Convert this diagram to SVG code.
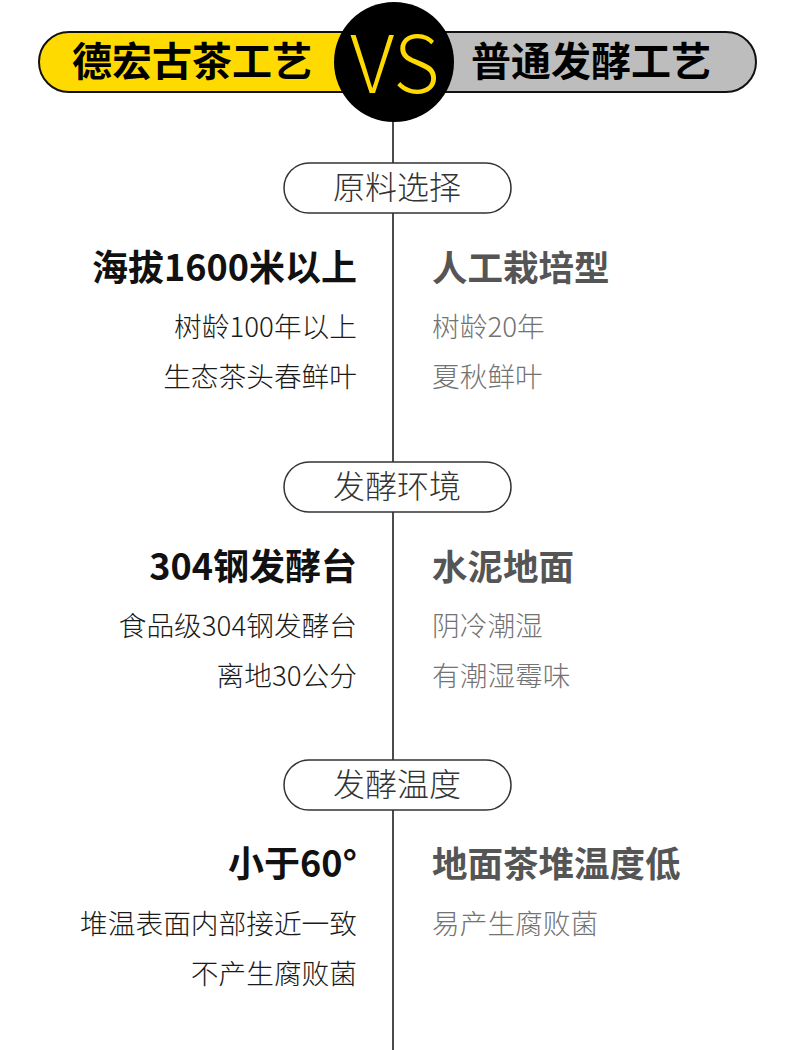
<svg xmlns="http://www.w3.org/2000/svg" width="790" height="1050" viewBox="0 0 790 1050">
<style>
text{font-family:"Noto Sans CJK SC","Noto Sans",sans-serif}
.hd{font-size:40px;font-weight:700;fill:#000;text-anchor:middle}
.lab{font-size:32px;font-weight:300;fill:#333;text-anchor:middle}
.pill{fill:#fff;stroke:#333;stroke-width:1.5}
.lh{font-size:36px;font-weight:700;fill:#111;text-anchor:end}
.rh{font-size:35.5px;font-weight:700;fill:#555}
.ls{font-size:27.7px;font-weight:300;fill:#1a1a1a;text-anchor:end}
.rs{font-size:27.7px;font-weight:300;fill:#737373}
</style>
<rect width="790" height="1050" fill="#fff"/>
<g id="connectors">
<line x1="393" y1="115" x2="393" y2="1050" stroke="#111" stroke-width="1.5"/>
</g>
<g id="header-left">
<rect x="39" y="32" width="360" height="60" rx="30" fill="#FFDA00" stroke="#111" stroke-width="2"/>
<text class="hd" x="192" y="76">德宏古茶工艺</text>
</g>
<g id="header-right">
<rect x="390" y="32" width="366" height="60" rx="30" fill="#BDBDBD" stroke="#111" stroke-width="2"/>
<text class="hd" x="591" y="76">普通发酵工艺</text>
</g>
<g id="vs">
<circle cx="394" cy="62" r="60" fill="#000"/>
<text x="395" y="93" font-size="80" font-weight="200" fill="#FFDA00" text-anchor="middle">VS</text>
</g>
<g id="label1">
<rect class="pill" x="284" y="163" width="227" height="50" rx="25"/>
<text class="lab" x="397" y="199">原料选择</text>
</g>
<g id="sec1-left">
<text class="lh" x="357" y="281">海拔1600米以上</text>
<text class="ls" x="357" y="337">树龄100年以上</text>
<text class="ls" x="357" y="387">生态茶头春鲜叶</text>
</g>
<g id="sec1-right">
<text class="rh" x="432" y="281">人工栽培型</text>
<text class="rs" x="432" y="337">树龄20年</text>
<text class="rs" x="432" y="387">夏秋鲜叶</text>
</g>
<g id="label2">
<rect class="pill" x="284" y="462" width="227" height="50" rx="25"/>
<text class="lab" x="397" y="498">发酵环境</text>
</g>
<g id="sec2-left">
<text class="lh" x="357" y="580">304钢发酵台</text>
<text class="ls" x="357" y="636">食品级304钢发酵台</text>
<text class="ls" x="357" y="686">离地30公分</text>
</g>
<g id="sec2-right">
<text class="rh" x="432" y="580">水泥地面</text>
<text class="rs" x="432" y="636">阴冷潮湿</text>
<text class="rs" x="432" y="686">有潮湿霉味</text>
</g>
<g id="label3">
<rect class="pill" x="284" y="760" width="227" height="50" rx="25"/>
<text class="lab" x="397" y="796">发酵温度</text>
</g>
<g id="sec3-left">
<text class="lh" x="357" y="877" font-weight="500">小于60°</text>
<text class="ls" x="357" y="934">堆温表面内部接近一致</text>
<text class="ls" x="357" y="984">不产生腐败菌</text>
</g>
<g id="sec3-right">
<text class="rh" x="432" y="877">地面茶堆温度低</text>
<text class="rs" x="432" y="934">易产生腐败菌</text>
</g>
</svg>
